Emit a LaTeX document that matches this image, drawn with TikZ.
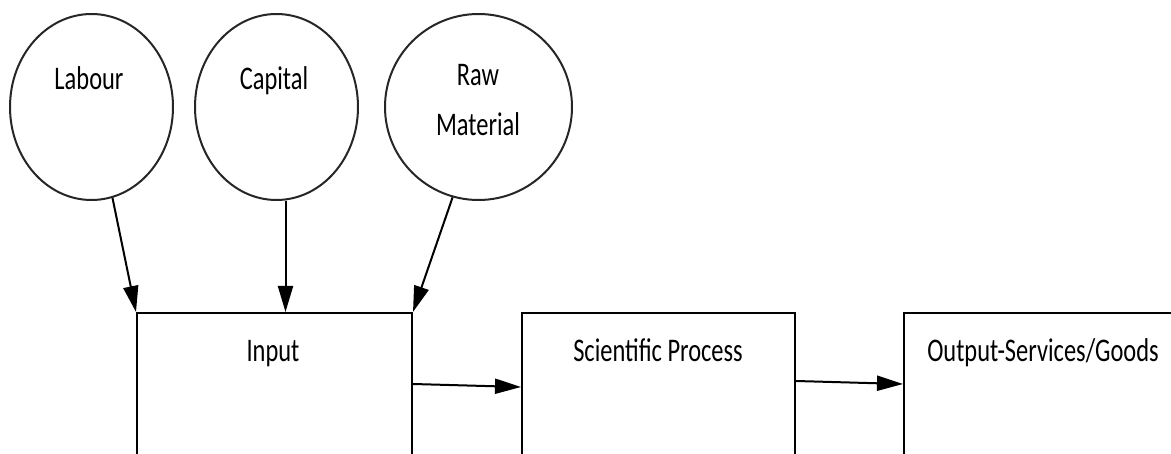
\documentclass[tikz,border=0pt]{standalone}
\usepackage{fontspec}
\setmainfont{Carlito}[FakeStretch=0.74]
\usetikzlibrary{arrows.meta,shapes.geometric,calc}
\begin{document}
\begin{tikzpicture}[x=1pt,y=-1pt,
  ring/.style={draw=black!85,line width=2pt,ellipse,inner sep=0pt},
  boxnode/.style={draw=black,line width=2pt,rectangle,inner sep=0pt},
  lbl/.style={anchor=base,inner sep=0pt,font=\fontsize{33}{50}\selectfont,align=center},
  arr/.style={draw=black,line width=2pt,-{Triangle[length=26pt,width=15pt]}}]
\useasboundingbox (0,0) rectangle (1171,454);
\clip (0,0) rectangle (1171,454);
% input circles
\node[ring,minimum width=163pt,minimum height=186pt] (lab) at (91.5,107) {};
\node[ring,minimum width=163pt,minimum height=186pt] (cap) at (276.5,107) {};
\node[ring,minimum width=187pt,minimum height=186pt] (raw) at (478.5,107) {};
\node[lbl] (tlab) at (89,90) {Labour};
\node[lbl] (tcap) at (274,90) {Capital};
\node[lbl,anchor=north] (traw) at (478,64) {Raw\\Material};
% boxes
\node[boxnode,minimum width=275pt,minimum height=160pt] (inp) at (274.5,393) {};
\node[boxnode,minimum width=273pt,minimum height=160pt] (sci) at (658.5,393) {};
\node[boxnode,minimum width=320pt,minimum height=160pt] (out) at (1064,393) {};
\node[lbl] (tinp) at (273,362) {Input};
\node[lbl] (tsci) at (658,362) {Scientific Process};
\node[lbl] (tout) at (1043,362) {Output-Services/Goods};
% connectors
\coordinate (capout) at ($(cap.south)+(9,0)$);
\draw[arr] (lab.-77) -- (inp.north west);
\draw[arr] (capout) -- (capout |- inp.north);
\draw[arr] (raw.-106) -- (inp.north east);
\draw[arr] ([yshift=-72pt]inp.north east) -- ([yshift=-75pt]sci.north west);
\draw[arr] ([yshift=-69pt]sci.north east) -- ([yshift=-72pt]out.north west);
\end{tikzpicture}
\end{document}
